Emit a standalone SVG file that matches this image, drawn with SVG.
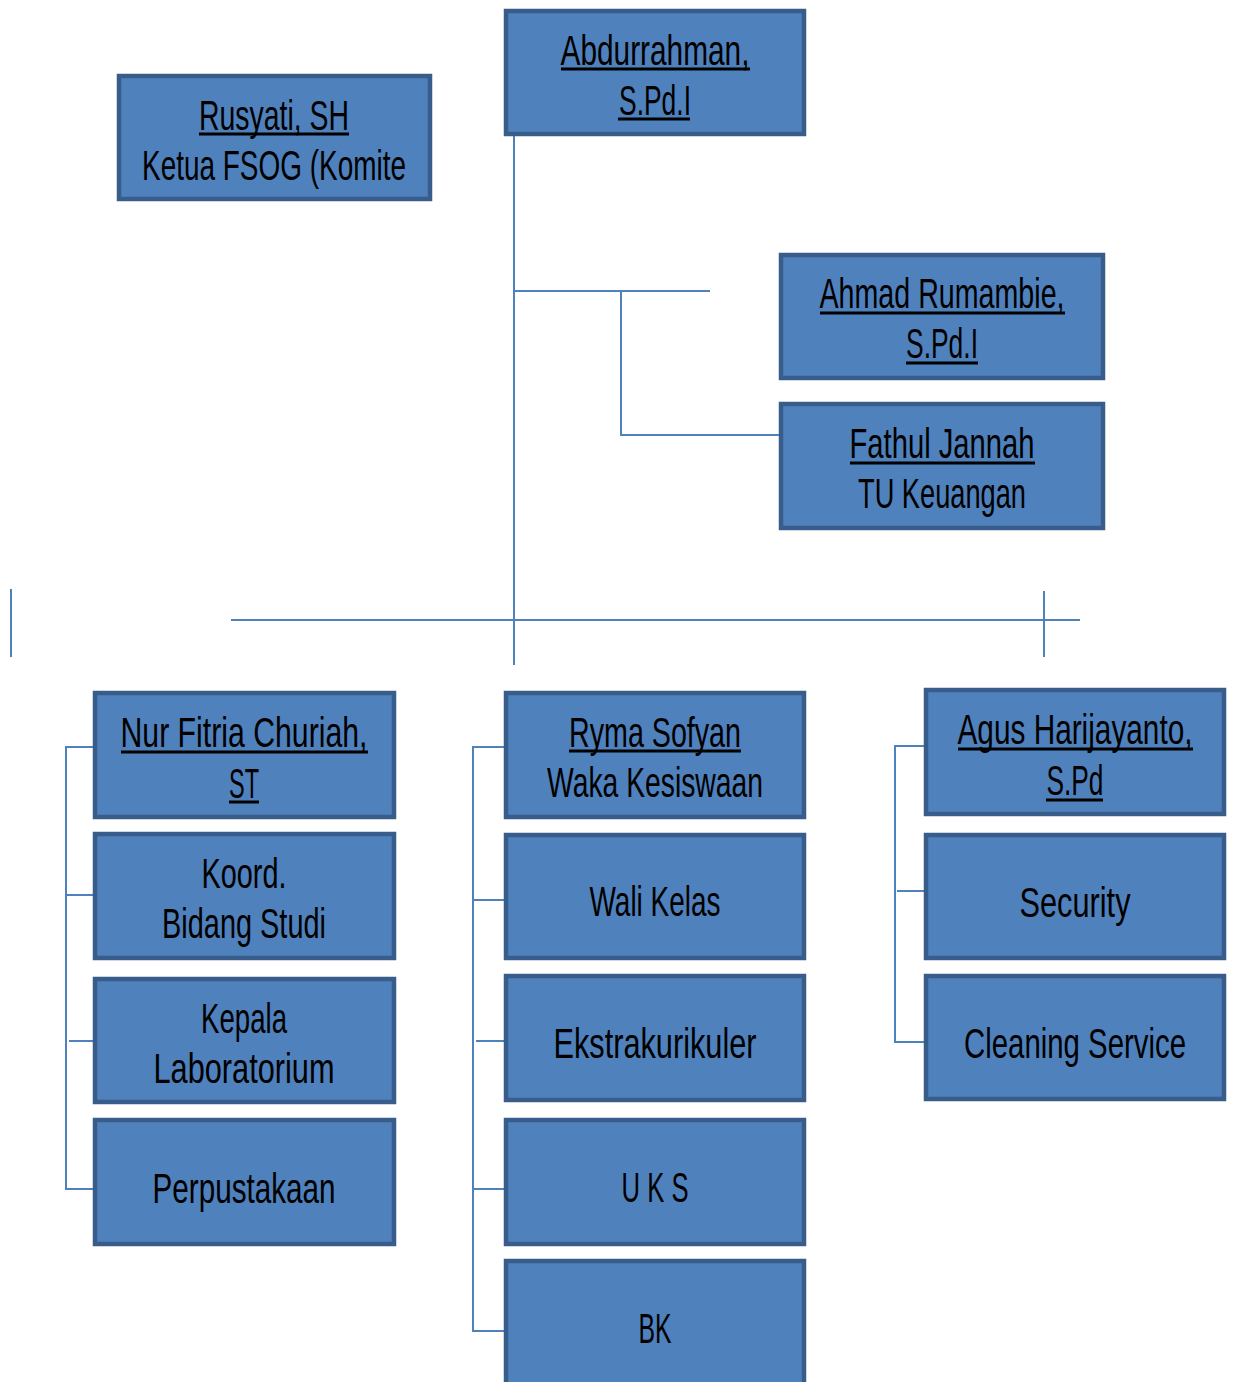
<svg xmlns="http://www.w3.org/2000/svg" width="1234" height="1382" viewBox="0 0 1234 1382">
<style>
.box{fill:#4F81BD;stroke:#385D8A;stroke-width:4.5}
.t{font-family:"Liberation Sans",Arial,sans-serif;font-size:42px;fill:#000;text-anchor:middle}
.ul{stroke:#000;stroke-width:3}
.c{fill:none;stroke:#4F81BD;stroke-width:2}
</style>
<rect width="1234" height="1382" fill="#fff"/>
<g id="connectors">
<path class="c" d="M514 136V665"/>
<path class="c" d="M514 291H710"/>
<path class="c" d="M621 291V435H779"/>
<path class="c" d="M231 620H1080" stroke-width="3"/>
<path class="c" d="M1044 591V657"/>
<path class="c" d="M11 589V657"/>
<path class="c" d="M93 747H66V1189H93M66 895H93M69 1041H93"/>
<path class="c" d="M504 747H473V1331H504M473 900H504M476 1041H504M473 1189H504"/>
<path class="c" d="M924 746H895V1042H924M897 891H924"/>
</g>
<g id="rusyati"><rect class="box" x="119" y="76" width="311" height="123"/>
<text class="t" x="274" y="130" textLength="150" lengthAdjust="spacingAndGlyphs">Rusyati, SH</text>
<line class="ul" x1="199" y1="134" x2="349" y2="134"/>
<text class="t" x="274" y="180" textLength="264" lengthAdjust="spacingAndGlyphs">Ketua FSOG (Komite</text></g>
<g id="abdurrahman"><rect class="box" x="506" y="11" width="298" height="123"/>
<text class="t" x="655" y="65" textLength="189" lengthAdjust="spacingAndGlyphs">Abdurrahman,</text>
<line class="ul" x1="561" y1="69" x2="750" y2="69"/>
<text class="t" x="655" y="115" textLength="72" lengthAdjust="spacingAndGlyphs">S.Pd.I</text>
<line class="ul" x1="618" y1="119" x2="690" y2="119"/></g>
<g id="ahmad"><rect class="box" x="781" y="255" width="322" height="123"/>
<text class="t" x="942" y="308" textLength="245" lengthAdjust="spacingAndGlyphs">Ahmad Rumambie,</text>
<line class="ul" x1="820" y1="313" x2="1065" y2="313"/>
<text class="t" x="942" y="358" textLength="72" lengthAdjust="spacingAndGlyphs">S.Pd.I</text>
<line class="ul" x1="906" y1="363" x2="978" y2="363"/></g>
<g id="fathul"><rect class="box" x="781" y="404" width="322" height="124"/>
<text class="t" x="942" y="458" textLength="185" lengthAdjust="spacingAndGlyphs">Fathul Jannah</text>
<line class="ul" x1="850" y1="463" x2="1035" y2="463"/>
<text class="t" x="942" y="508" textLength="168" lengthAdjust="spacingAndGlyphs">TU Keuangan</text></g>
<g id="nur"><rect class="box" x="95" y="693" width="299" height="124"/>
<text class="t" x="244" y="747" textLength="247" lengthAdjust="spacingAndGlyphs">Nur Fitria Churiah,</text>
<line class="ul" x1="121" y1="752" x2="368" y2="752"/>
<text class="t" x="244" y="798" textLength="30" lengthAdjust="spacingAndGlyphs">ST</text>
<line class="ul" x1="229" y1="802" x2="259" y2="802"/></g>
<g id="koord"><rect class="box" x="95" y="834" width="299" height="124"/>
<text class="t" x="244" y="888" textLength="85" lengthAdjust="spacingAndGlyphs">Koord.</text>
<text class="t" x="244" y="938" textLength="164" lengthAdjust="spacingAndGlyphs">Bidang Studi</text></g>
<g id="kepala"><rect class="box" x="95" y="979" width="299" height="123"/>
<text class="t" x="244" y="1033" textLength="86" lengthAdjust="spacingAndGlyphs">Kepala</text>
<text class="t" x="244" y="1083" textLength="181" lengthAdjust="spacingAndGlyphs">Laboratorium</text></g>
<g id="perpustakaan"><rect class="box" x="95" y="1120" width="299" height="124"/>
<text class="t" x="244" y="1203" textLength="183" lengthAdjust="spacingAndGlyphs">Perpustakaan</text></g>
<g id="ryma"><rect class="box" x="506" y="693" width="298" height="124"/>
<text class="t" x="655" y="747" textLength="172" lengthAdjust="spacingAndGlyphs">Ryma Sofyan</text>
<line class="ul" x1="569" y1="751" x2="741" y2="751"/>
<text class="t" x="655" y="797" textLength="216" lengthAdjust="spacingAndGlyphs">Waka Kesiswaan</text></g>
<g id="wali"><rect class="box" x="506" y="835" width="298" height="123"/>
<text class="t" x="655" y="916" textLength="131" lengthAdjust="spacingAndGlyphs">Wali Kelas</text></g>
<g id="ekstra"><rect class="box" x="506" y="976" width="298" height="124"/>
<text class="t" x="655" y="1058" textLength="203" lengthAdjust="spacingAndGlyphs">Ekstrakurikuler</text></g>
<g id="uks"><rect class="box" x="506" y="1120" width="298" height="124"/>
<text class="t" x="655" y="1202" textLength="67" lengthAdjust="spacingAndGlyphs">U K S</text></g>
<g id="bk"><rect class="box" x="506" y="1261" width="298" height="130"/>
<text class="t" x="655" y="1343" textLength="33" lengthAdjust="spacingAndGlyphs">BK</text></g>
<g id="agus"><rect class="box" x="926" y="690" width="298" height="124"/>
<text class="t" x="1075" y="744" textLength="235" lengthAdjust="spacingAndGlyphs">Agus Harijayanto,</text>
<line class="ul" x1="958" y1="749" x2="1193" y2="749"/>
<text class="t" x="1075" y="795" textLength="57" lengthAdjust="spacingAndGlyphs">S.Pd</text>
<line class="ul" x1="1046" y1="800" x2="1103" y2="800"/></g>
<g id="security"><rect class="box" x="926" y="835" width="298" height="123"/>
<text class="t" x="1075" y="917" textLength="111" lengthAdjust="spacingAndGlyphs">Security</text></g>
<g id="cleaning"><rect class="box" x="926" y="976" width="298" height="123"/>
<text class="t" x="1075" y="1058" textLength="222" lengthAdjust="spacingAndGlyphs">Cleaning Service</text></g>
</svg>
